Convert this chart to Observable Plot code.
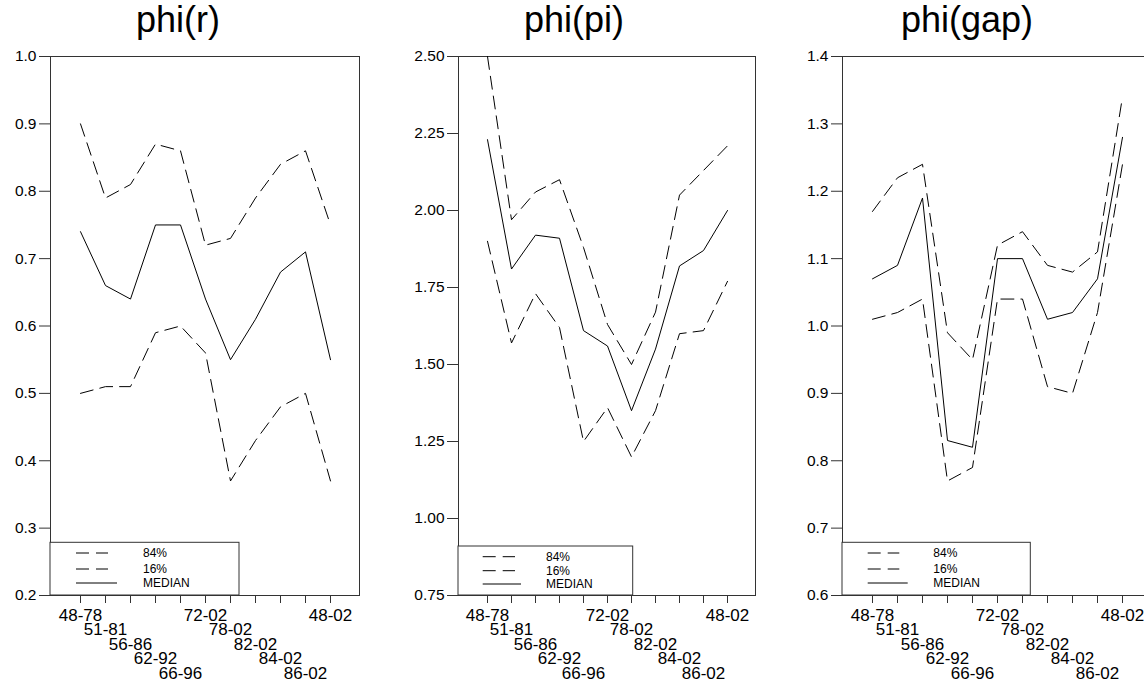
<!DOCTYPE html>
<html><head><meta charset="utf-8">
<script src="https://cdn.jsdelivr.net/npm/d3@7"></script>
<script src="https://cdn.jsdelivr.net/npm/@observablehq/plot@0.6"></script>
<style>
html,body{margin:0;padding:0;background:#fff;overflow:hidden;}
#wrap{position:relative;width:1144px;height:683px;overflow:hidden;font-family:"Liberation Sans",Arial,sans-serif;}
.panel{position:absolute;top:0;height:683px;}
.panel svg{max-width:none !important;}
#overlay{position:absolute;left:0;top:0;pointer-events:none;}
</style></head><body><div id="wrap"></div>
<script>
// ---- data ----
const categories = ["48-78","51-81","56-86","62-92","66-96","72-02","78-02","82-02","84-02","86-02","48-02"];

const phiR_84  = [0.90,0.79,0.81,0.87,0.86,0.72,0.73,0.79,0.84,0.86,0.75];
const phiR_med = [0.74,0.66,0.64,0.75,0.75,0.64,0.55,0.61,0.68,0.71,0.55];
const phiR_16  = [0.50,0.51,0.51,0.59,0.60,0.56,0.37,0.43,0.48,0.50,0.37];

const phiPi_84  = [2.50,1.97,2.06,2.10,1.88,1.63,1.50,1.67,2.05,2.13,2.21];
const phiPi_med = [2.23,1.81,1.92,1.91,1.61,1.56,1.35,1.55,1.82,1.87,2.00];
const phiPi_16  = [1.90,1.57,1.73,1.62,1.25,1.36,1.20,1.35,1.60,1.61,1.77];

const phiGap_84  = [1.17,1.22,1.24,0.99,0.95,1.12,1.14,1.09,1.08,1.11,1.34];
const phiGap_med = [1.07,1.09,1.19,0.83,0.82,1.10,1.10,1.01,1.02,1.07,1.28];
const phiGap_16  = [1.01,1.02,1.04,0.77,0.79,1.04,1.04,0.91,0.90,1.02,1.24];

const titles = ["phi(r)","phi(pi)","phi(gap)"];
const yTicksR   = [0.2,0.3,0.4,0.5,0.6,0.7,0.8,0.9,1.0];
const yTicksPi  = [0.75,1.00,1.25,1.50,1.75,2.00,2.25,2.50];
const yTicksGap = [0.6,0.7,0.8,0.9,1.0,1.1,1.2,1.3,1.4];
const legendLabels = ["84%","16%","MEDIAN"];

// ---- layout ----
const FONT = "Liberation Sans, Arial, sans-serif";
const panels = [
  {title: titles[0], u: phiR_84, m: phiR_med, l: phiR_16, dom:[0.2,1.0], ticks: yTicksR, fmt: d3.format(".1f"),
   left:0, width:380, mL:50, mR:21, pad:1.13, titleX:178,
   leg:{x0:50, x1:239, top:542.3, bottom:595, ls:76, le:108, se:117, tx:143, rows:[553,569,583]}},
  {title: titles[1], u: phiPi_84, m: phiPi_med, l: phiPi_16, dom:[0.75,2.5], ticks: yTicksPi, fmt: d3.format(".2f"),
   left:380, width:380, mL:78, mR:5, pad:1.11, titleX:574,
   leg:{x0:458, x1:632.7, top:546, bottom:595, ls:482.7, le:515, se:521, tx:546, rows:[556.7,570.7,584]}},
  {title: titles[2], u: phiGap_84, m: phiGap_med, l: phiGap_16, dom:[0.6,1.4], ticks: yTicksGap, fmt: d3.format(".1f"),
   left:760, width:400, mL:82, mR:9, pad:1.12, titleX:967,
   leg:{x0:842, x1:1030.3, top:542.3, bottom:595, ls:867.7, le:899.3, se:907.7, tx:933.3, rows:[553,569,583]}}
];

const wrap = document.getElementById("wrap");
const DASH = "13,7";

for (const p of panels) {
  const chart = Plot.plot({
    width: p.width, height: 683,
    marginTop: 56, marginBottom: 88, marginLeft: p.mL, marginRight: p.mR,
    style: {fontFamily: FONT, background: "transparent", color: "#000", overflow: "visible", maxWidth: "none"},
    x: {type: "point", domain: categories, padding: p.pad},
    y: {domain: p.dom},
    marks: [
      Plot.frame({stroke: "#333", strokeWidth: 1}),
      Plot.axisY({ticks: p.ticks, tickFormat: p.fmt, tickSize: 11, tickPadding: 3, fontSize: 15.5, label: null, stroke: "#333"}),
      Plot.axisX({tickSize: 8, tickPadding: 7, fontSize: 17, label: null, stroke: "#333", lineHeight: 0.853,
        tickFormat: d => { const r = categories.indexOf(d) % 5; return r === 0 ? d + "\n" : "\n".repeat(r) + d; }}),
      Plot.line(p.u, {x: (d, i) => categories[i], y: d => d, stroke: "#000", strokeWidth: 1, strokeDasharray: DASH}),
      Plot.line(p.l, {x: (d, i) => categories[i], y: d => d, stroke: "#000", strokeWidth: 1, strokeDasharray: DASH}),
      Plot.line(p.m, {x: (d, i) => categories[i], y: d => d, stroke: "#000", strokeWidth: 1})
    ]
  });
  chart.style.width = p.width + "px";
  chart.style.height = "683px";
  const div = document.createElement("div");
  div.className = "panel";
  div.style.left = p.left + "px";
  div.style.width = p.width + "px";
  div.appendChild(chart);
  wrap.appendChild(div);
}

// ---- titles and legends overlay ----
const ov = d3.select(wrap).append("svg").attr("id", "overlay").attr("width", 1144).attr("height", 683)
  .style("font-family", FONT);
for (const p of panels) {
  ov.append("text").attr("x", p.titleX).attr("y", 32).attr("text-anchor", "middle")
    .attr("font-size", 36).attr("fill", "#000").text(p.title);
  const L = p.leg;
  ov.append("rect").attr("x", L.x0).attr("y", L.top).attr("width", L.x1 - L.x0).attr("height", L.bottom - L.top)
    .attr("fill", "#fff").attr("stroke", "#333").attr("stroke-width", 1);
  legendLabels.forEach((lab, i) => {
    const y = L.rows[i];
    ov.append("line").attr("x1", L.ls).attr("x2", i < 2 ? L.le : L.se).attr("y1", y).attr("y2", y)
      .attr("stroke", "#000").attr("stroke-width", 1).attr("stroke-dasharray", i < 2 ? DASH : null);
    ov.append("text").attr("x", L.tx).attr("y", y + 4.2).attr("font-size", 12).attr("fill", "#000").text(lab);
  });
}
</script></body></html>
